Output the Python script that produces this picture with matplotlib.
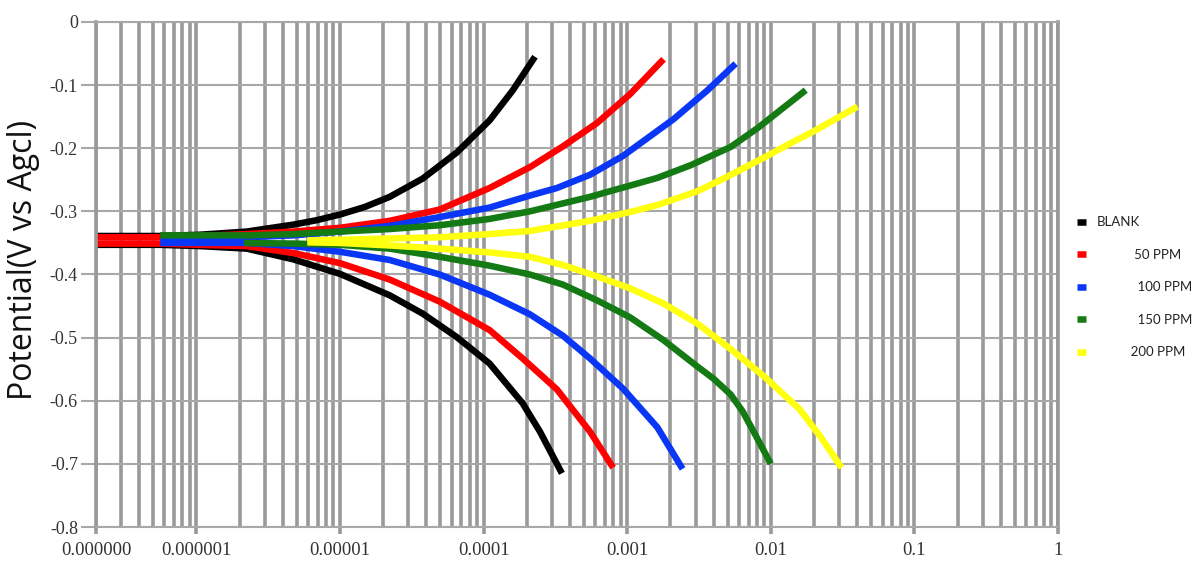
import matplotlib
matplotlib.use("Agg")
import matplotlib.pyplot as plt
from matplotlib.ticker import NullFormatter

# Tafel curves: current density (A) and potential (V vs AgCl)
blank_an_i = [2e-7, 5.6e-7, 1.06e-6, 2.24e-6, 4.73e-6, 6.88e-6, 1.0e-5, 1.49e-5, 2.22e-5, 3.77e-5, 6.49e-5, 1.10e-4, 1.60e-4, 2.28e-4]
blank_an_e = [-0.339, -0.339, -0.337, -0.332, -0.321, -0.314, -0.305, -0.293, -0.277, -0.248, -0.207, -0.156, -0.108, -0.055]
blank_ca_i = [2e-7, 5.6e-7, 1.06e-6, 2.24e-6, 4.73e-6, 1.0e-5, 2.22e-5, 3.77e-5, 6.49e-5, 1.10e-4, 1.87e-4, 2.47e-4, 3.51e-4]
blank_ca_e = [-0.353, -0.353, -0.355, -0.359, -0.376, -0.399, -0.433, -0.462, -0.499, -0.541, -0.604, -0.649, -0.715]

p50_an_i = [2e-7, 5.6e-7, 1.06e-6, 2.24e-6, 4.73e-6, 1.0e-5, 2.22e-5, 4.95e-5, 1.10e-4, 2.10e-4, 3.57e-4, 6.17e-4, 1.05e-3, 1.79e-3]
p50_an_e = [-0.341, -0.341, -0.339, -0.336, -0.332, -0.326, -0.315, -0.297, -0.263, -0.230, -0.197, -0.160, -0.114, -0.059]
p50_ca_i = [2e-7, 5.6e-7, 1.06e-6, 2.24e-6, 4.73e-6, 1.0e-5, 2.22e-5, 4.95e-5, 1.10e-4, 1.87e-4, 3.24e-4, 5.51e-4, 7.98e-4]
p50_ca_e = [-0.351, -0.351, -0.353, -0.355, -0.366, -0.382, -0.408, -0.443, -0.488, -0.533, -0.582, -0.649, -0.706]

p100_an_i = [5.6e-7, 1.06e-6, 2.24e-6, 4.73e-6, 1.0e-5, 2.22e-5, 4.95e-5, 1.10e-4, 2.10e-4, 3.24e-4, 5.51e-4, 9.37e-4, 2.10e-3, 3.63e-3, 5.69e-3]
p100_an_e = [-0.343, -0.342, -0.341, -0.338, -0.332, -0.323, -0.309, -0.294, -0.275, -0.263, -0.242, -0.212, -0.154, -0.108, -0.066]
p100_ca_i = [5.6e-7, 1.06e-6, 2.24e-6, 4.73e-6, 1.0e-5, 2.22e-5, 4.95e-5, 1.10e-4, 2.10e-4, 3.57e-4, 5.51e-4, 9.37e-4, 1.62e-3, 2.43e-3]
p100_ca_e = [-0.350, -0.350, -0.350, -0.355, -0.364, -0.377, -0.400, -0.432, -0.463, -0.497, -0.533, -0.581, -0.642, -0.708]

p150_an_i = [5.6e-7, 1.06e-6, 2.24e-6, 4.73e-6, 1.0e-5, 2.22e-5, 4.95e-5, 1.10e-4, 2.10e-4, 5.51e-4, 1.62e-3, 2.76e-3, 5.25e-3, 8.1e-3, 1.75e-2]
p150_an_e = [-0.338, -0.338, -0.338, -0.336, -0.332, -0.328, -0.322, -0.312, -0.300, -0.277, -0.247, -0.227, -0.198, -0.168, -0.108]
p150_ca_i = [2.14e-6, 4.73e-6, 1.0e-5, 2.22e-5, 4.95e-5, 1.10e-4, 2.10e-4, 3.57e-4, 6.17e-4, 1.05e-3, 1.79e-3, 3.09e-3, 3.99e-3, 5.25e-3, 6.37e-3, 7.85e-3, 1.0e-2]
p150_ca_e = [-0.350, -0.351, -0.353, -0.359, -0.372, -0.386, -0.400, -0.416, -0.441, -0.468, -0.504, -0.546, -0.565, -0.590, -0.617, -0.655, -0.700]

p200_an_i = [5.93e-6, 1.0e-5, 2.22e-5, 4.95e-5, 1.10e-4, 2.10e-4, 5.51e-4, 1.05e-3, 1.62e-3, 3.09e-3, 4.69e-3, 8.93e-3, 1.40e-2, 2.07e-2, 4.01e-2]
p200_an_e = [-0.346, -0.345, -0.343, -0.341, -0.336, -0.331, -0.315, -0.301, -0.290, -0.268, -0.248, -0.215, -0.191, -0.171, -0.134]
p200_ca_i = [5.93e-6, 1.0e-5, 2.22e-5, 4.95e-5, 1.10e-4, 2.10e-4, 3.57e-4, 6.17e-4, 1.05e-3, 1.79e-3, 3.09e-3, 5.25e-3, 8.93e-3, 1.58e-2, 2.22e-2, 3.11e-2]
p200_ca_e = [-0.349, -0.350, -0.354, -0.359, -0.365, -0.372, -0.385, -0.403, -0.422, -0.446, -0.478, -0.518, -0.561, -0.613, -0.657, -0.706]

labels = ['BLANK', '50 PPM', '100 PPM', '150 PPM', '200 PPM']
legend_pad = [0, 11, 12, 12, 10]   # the legend texts are oddly indented in the original
colors = ['#000000', '#ff0000', '#0a36f5', '#147a14', '#ffff10']

xtick_vals = [2e-7, 1e-6, 1e-5, 1e-4, 1e-3, 1e-2, 1e-1, 1]
xtick_labels = ['0.000000', '0.000001', '0.00001', '0.0001', '0.001', '0.01', '0.1', '1']
ytick_vals = [-0.8, -0.7, -0.6, -0.5, -0.4, -0.3, -0.2, -0.1, 0]
ytick_labels = ['-0.8', '-0.7', '-0.6', '-0.5', '-0.4', '-0.3', '-0.2', '-0.1', '0']

series = [
    (blank_an_i, blank_an_e, blank_ca_i, blank_ca_e),
    (p50_an_i, p50_an_e, p50_ca_i, p50_ca_e),
    (p100_an_i, p100_an_e, p100_ca_i, p100_ca_e),
    (p150_an_i, p150_an_e, p150_ca_i, p150_ca_e),
    (p200_an_i, p200_an_e, p200_ca_i, p200_ca_e),
]

fig = plt.figure(figsize=(11.95, 5.61), dpi=100)
ax = fig.add_axes([0.0803, 0.0606, 0.8051, 0.9002])

grid_v = '#999999'
grid_h = '#a8a8a8'

for (ai, ae, ci, ce), lab, col in zip(series, labels, colors):
    ax.plot(ai, ae, color=col, lw=4.7, solid_capstyle='butt', solid_joinstyle='round', label=lab)
    ax.plot(ci, ce, color=col, lw=4.7, solid_capstyle='butt', solid_joinstyle='round')

ax.set_xscale('log')
ax.set_xlim(2e-7, 1)
ax.set_ylim(-0.8, 0)
ax.set_xticks(xtick_vals)
ax.set_xticklabels(xtick_labels)
ax.xaxis.set_minor_formatter(NullFormatter())
ax.set_yticks(ytick_vals)
ax.set_yticklabels(ytick_labels)

ax.set_axisbelow(True)
ax.grid(axis='x', which='both', color=grid_v, lw=2.6)
ax.grid(axis='y', which='major', color=grid_h, lw=1.5)

for side in ['left', 'right']:
    ax.spines[side].set_color(grid_v)
    ax.spines[side].set_linewidth(2.6)
for side in ['top', 'bottom']:
    ax.spines[side].set_color(grid_h)
    ax.spines[side].set_linewidth(1.5)

ax.tick_params(axis='x', which='major', length=5, width=2.6, color=grid_v, pad=6,
               labelsize=13.5, labelcolor='#333333')
ax.tick_params(axis='x', which='minor', length=0)
ax.tick_params(axis='y', length=11, width=1.5, color=grid_h, pad=2,
               labelsize=13, labelcolor='#333333')
for t in ax.get_xticklabels() + ax.get_yticklabels():
    t.set_family('Liberation Serif')

ax.set_ylabel('Potential(V vs Agcl)', fontsize=23, family='Open Sans', color='#111111')
ax.yaxis.set_label_coords(-0.058, 0.529)

leg = ax.legend(loc='upper left', bbox_to_anchor=(0.8954, 0.626), bbox_transform=fig.transFigure,
                frameon=False, borderpad=0, handlelength=0.75, handletextpad=0.8,
                labelspacing=1.55, prop={'family': 'Lato', 'size': 9.5})
for txt, pad in zip(leg.get_texts(), legend_pad):
    txt.set_text(' ' * pad + txt.get_text())
    txt.set_color('#222222')

fig.savefig('out.png', dpi=100)
